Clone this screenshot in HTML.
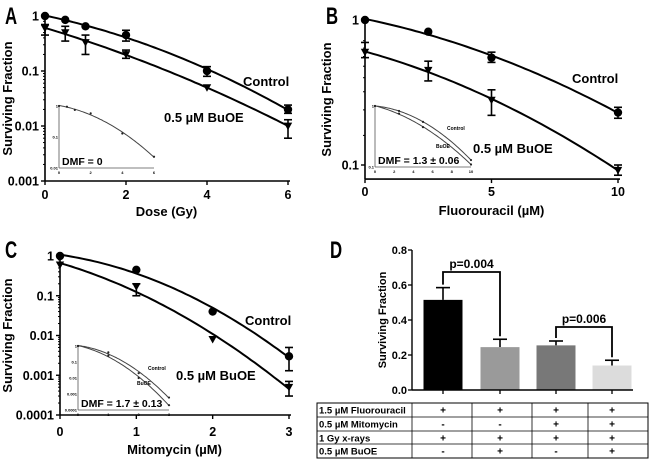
<!DOCTYPE html>
<html><head><meta charset="utf-8"><style>
body{margin:0;background:#fff}
svg{display:block}
text{font-family:"Liberation Sans",Arial,sans-serif;font-weight:bold;fill:#000}
</style></head><body>
<svg id="fig" width="650" height="461" viewBox="0 0 650 461" xmlns="http://www.w3.org/2000/svg"></svg>
<script>
// ---- Panel A data (Dose Gy) ----
const aDose=[0,0.5,1,2,4,6];
const aCtrl=[1,0.85,0.65,0.45,0.1,0.02];
const aCtrlLo=[1,0.85,0.65,0.35,0.08,0.017];
const aCtrlHi=[1,0.85,0.65,0.55,0.12,0.024];
const aBuoe=[0.6,0.5,0.33,0.2,0.05,0.01];
const aBuoeLo=[0.45,0.35,0.2,0.17,0.05,0.006];
const aBuoeHi=[0.7,0.65,0.45,0.24,0.05,0.013];
const aInset=[1,0.95,0.75,0.58,0.13,0.023];
// ---- Panel B data (Fluorouracil uM) ----
const bDose=[0,2.5,5,10];
const bCtrl=[1,0.83,0.55,0.23];
const bCtrlLo=[1,0.83,0.51,0.21];
const bCtrlHi=[1,0.83,0.6,0.25];
const bBuoe=[0.6,0.45,0.28,0.092];
const bBuoeLo=[0.55,0.38,0.22,0.085];
const bBuoeHi=[0.7,0.52,0.33,0.1];
const bInsetCtrl=[1,0.83,0.55,0.13];
const bInsetBuoe=[1,0.75,0.45,0.11];
// ---- Panel C data (Mitomycin uM) ----
const cDose=[0,1,2,3];
const cCtrl=[1,0.45,0.04,0.003];
const cCtrlLo=[1,0.45,0.04,0.0013];
const cCtrlHi=[1,0.45,0.04,0.005];
const cBuoe=[0.6,0.17,0.008,0.0005];
const cBuoeLo=[0.6,0.1,0.008,0.0003];
const cBuoeHi=[0.6,0.2,0.008,0.0007];
const cInsetCtrl=[1,0.4,0.02,0.0006];
const cInsetBuoe=[1,0.25,0.01,0.0002];
// ---- Panel D data ----
const dBars=[0.515,0.245,0.255,0.14];
const dErr=[0.585,0.29,0.28,0.17];
const dColors=["#000","#9a9a9a","#787878","#dcdcdc"];
const dTicks=["0.0","0.2","0.4","0.6","0.8"];
const tableRows=["1.5 µM Fluorouracil","0.5 µM Mitomycin","1 Gy x-rays","0.5 µM BuOE"];
const tableVals=[["+","+","+","+"],["-","-","+","+"],["+","+","+","+"],["-","+","-","+"]];

const svg=document.getElementById('fig');
const NS="http://www.w3.org/2000/svg";
function el(tag,attrs,parent){const e=document.createElementNS(NS,tag);for(const k in attrs)e.setAttribute(k,attrs[k]);(parent||svg).appendChild(e);return e;}
function txt(s,x,y,size,anchor,parent,extra){const t=el('text',Object.assign({x:x,y:y,'font-size':size,'text-anchor':anchor||'middle'},extra||{}),parent);t.textContent=s;return t;}
function fit(xs,ys){
  let n=xs.length,S=[[0,0,0],[0,0,0],[0,0,0]],R=[0,0,0];
  for(let i=0;i<n;i++){const v=[1,xs[i],xs[i]*xs[i]],l=Math.log(ys[i]);for(let r=0;r<3;r++){R[r]+=v[r]*l;for(let c=0;c<3;c++)S[r][c]+=v[r]*v[c];}}
  const M=S.map((r,i)=>r.concat([R[i]]));
  for(let i=0;i<3;i++){let p=M[i][i];for(let j=i;j<4;j++)M[i][j]/=p;for(let k=0;k<3;k++)if(k!==i){const f=M[k][i];for(let j=i;j<4;j++)M[k][j]-=f*M[i][j];}}
  return x=>Math.exp(M[0][3]+M[1][3]*x+M[2][3]*x*x);
}
function curve(g,xs,ys,X,Y,w,x0,x1){const f=fit(xs,ys);let d='';for(let i=0;i<=60;i++){const x=x0+(x1-x0)*i/60;d+=(i?'L':'M')+X(x).toFixed(1)+','+Y(f(x)).toFixed(1);}const p=el('path',{d:d,fill:'none',stroke:'#000','stroke-width':w},g);return p;}
function logScale(top,decadePx,topVal){return v=>top+(Math.log10(topVal)-Math.log10(v))*decadePx;}
function errbar(g,x,lo,hi,Y){if(Math.abs(Y(lo)-Y(hi))<3)return;el('line',{x1:x,x2:x,y1:Y(lo),y2:Y(hi),stroke:'#000','stroke-width':1.6},g);[lo,hi].forEach(v=>el('line',{x1:x-4,x2:x+4,y1:Y(v),y2:Y(v),stroke:'#000','stroke-width':1.6},g));}
function circle(g,x,y,r){const c=el('circle',{cx:x,cy:y,r:r,fill:'#000'},g);}
function tri(g,x,y,r){const p=el('path',{d:`M${x-r},${y-r*0.8}L${x+r},${y-r*0.8}L${x},${y+r}Z`,fill:'#000'},g);}

function mainPanel(o){
  const g=el('g',{});
  const X=v=>o.x0+(v-o.xmin)/(o.xmax-o.xmin)*(o.x1-o.x0);
  const Y=logScale(o.yTop,o.dec,o.topVal);
  const ybot=Y(o.botVal);
  el('line',{x1:o.x0,x2:o.x0,y1:o.yTop-3,y2:ybot,stroke:'#000','stroke-width':1.6},g);
  el('line',{x1:o.x0,x2:o.x1+2,y1:ybot,y2:ybot,stroke:'#000','stroke-width':1.6},g);
  o.yticks.forEach((v,i)=>{const y=Y(v);el('line',{x1:o.x0-4,x2:o.x0,y1:y,y2:y,stroke:'#000','stroke-width':1.4},g);txt(o.ylabels[i],o.x0-6,y+4.5,12.5,'end',g);});
  for(let d=Math.log10(o.botVal);d<Math.log10(o.topVal);d++)for(let m=2;m<10;m++){const y=Y(Math.pow(10,d)*m);if(y>=o.yTop-1)el('line',{x1:o.x0-2,x2:o.x0,y1:y,y2:y,stroke:'#000','stroke-width':1},g);}
  o.xticks.forEach(v=>{const x=X(v);el('line',{x1:x,x2:x,y1:ybot,y2:ybot+4,stroke:'#000','stroke-width':1.4},g);txt(String(v),x,ybot+o.tly,12.5,'middle',g);});
  const xl=txt(o.xlabel,(o.x0+o.x1)/2,ybot+o.xly,13,'middle',g);
  const yl=txt('Surviving Fraction',0,0,13,'middle',g,{transform:`translate(${o.ylx},${(o.yTop+ybot)/2}) rotate(-90)`});
  curve(g,o.xs,o.ctrl,X,Y,2,o.xmin,o.xmax);curve(g,o.xs,o.buoe,X,Y,2,o.xmin,o.xmax);
  o.xs.forEach((v,i)=>{errbar(g,X(v),o.ctrlLo[i],o.ctrlHi[i],Y);errbar(g,X(v),o.buoeLo[i],o.buoeHi[i],Y);circle(g,X(v),Y(o.ctrl[i]),4.2);tri(g,X(v),Y(o.buoe[i]),4.2);});
  const lc=txt('Control',o.ctrlLab[0],o.ctrlLab[1],13,'start',g);
  const lb=txt('0.5 µM BuOE',o.buoeLab[0],o.buoeLab[1],13,'start',g);
  const L=txt(o.letter,o.letPos[0],o.letPos[1],24,'start',g,{'font-weight':'normal',transform:`translate(${o.letPos[0]},0) scale(0.7,1) translate(${-o.letPos[0]},0)`});
  const ig=el('g',{},g);
  const I=o.inset;
  const IX=v=>I.x0+(v-o.xmin)/(o.xmax-o.xmin)*(I.x1-I.x0);
  const IY=v=>I.y0+(-Math.log10(v))/(0-Math.log10(I.bot))*(I.y1-I.y0);
  el('line',{x1:I.x0,x2:I.x0,y1:I.y0,y2:I.y1,stroke:'#555','stroke-width':0.8},ig);
  el('line',{x1:I.x0,x2:I.x1,y1:I.y1,y2:I.y1,stroke:'#555','stroke-width':0.8},ig);
  I.xt.forEach(v=>txt(String(v),IX(v),I.y1+6,4,'middle',ig,{'font-weight':'normal'}));
  I.yt.forEach(v=>txt(String(v),I.x0-1,IY(v)+1.5,4,'end',ig,{'font-weight':'normal'}));
  I.series.forEach(s=>{curve(ig,o.xs,s,IX,IY,1,o.xmin,o.xmax).setAttribute('stroke','#444');o.xs.forEach((v,i)=>el('circle',{cx:IX(v),cy:IY(s[i]),r:1.1,fill:'#222'},ig));});
  I.labels.forEach(l=>txt(l[0],l[1],l[2],5,'start',ig,{'font-weight':'normal'}));
  txt(I.dmf,I.x0+3,I.y1-3,10.5,'start',ig,{'font-weight':'normal'});
}
mainPanel({name:'panel-a',letter:'A',letPos:[5,24],x0:45,x1:288,xmin:0,xmax:6,yTop:16,dec:55,topVal:1,botVal:0.001,
 yticks:[1,0.1,0.01,0.001],ylabels:['1','0.1','0.01','0.001'],xticks:[0,2,4,6],xlabel:'Dose (Gy)',ylx:12,tly:18,xly:35,
 xs:aDose,ctrl:aCtrl,ctrlLo:aCtrlLo,ctrlHi:aCtrlHi,buoe:aBuoe,buoeLo:aBuoeLo,buoeHi:aBuoeHi,ctrlLab:[243,86],buoeLab:[164,122],
 inset:{x0:59,x1:154,y0:106,y1:168,bot:0.01,xt:[0,2,4,6],yt:[1,0.1,0.01],series:[aInset],labels:[],dmf:'DMF = 0'}});
mainPanel({name:'panel-b',letter:'B',letPos:[326,24],x0:365,x1:618,xmin:0,xmax:10,yTop:20,dec:145,topVal:1,botVal:0.08,
 yticks:[1,0.1],ylabels:['1','0.1'],xticks:[0,5,10],xlabel:'Fluorouracil (µM)',ylx:331,tly:17,xly:36,
 xs:bDose,ctrl:bCtrl,ctrlLo:bCtrlLo,ctrlHi:bCtrlHi,buoe:bBuoe,buoeLo:bBuoeLo,buoeHi:bBuoeHi,ctrlLab:[572,83],buoeLab:[473,153],
 inset:{x0:375,x1:471,y0:106,y1:167,bot:0.1,xt:[0,2,4,6,8,10],yt:[1,0.1],series:[bInsetCtrl,bInsetBuoe],labels:[['Control',447,130],['BuOE',436,148]],dmf:'DMF = 1.3 ± 0.06'}});
mainPanel({name:'panel-c',letter:'C',letPos:[5,258],x0:60,x1:289,xmin:0,xmax:3,yTop:256,dec:39.75,topVal:1,botVal:0.0001,
 yticks:[1,0.1,0.01,0.001,0.0001],ylabels:['1','0.1','0.01','0.001','0.0001'],xticks:[0,1,2,3],xlabel:'Mitomycin (µM)',ylx:12,tly:21,xly:39,
 xs:cDose,ctrl:cCtrl,ctrlLo:cCtrlLo,ctrlHi:cCtrlHi,buoe:cBuoe,buoeLo:cBuoeLo,buoeHi:cBuoeHi,ctrlLab:[245,325],buoeLab:[176,380],
 inset:{x0:78,x1:169,y0:346,y1:410,bot:0.0001,xt:[0,1,2,3],yt:[1,0.1,0.01,0.001,0.0001],series:[cInsetCtrl,cInsetBuoe],labels:[['Control',148,370],['BuOE',137,385]],dmf:'DMF = 1.7 ± 0.13'}});

// ---- Panel D ----
(function(){
  const g=el('g',{});
  const x0=412,x1=633,yb=390,pxPer=175;
  const Y=v=>yb-v*pxPer;
  const bw=39,centers=[443,500,556,612];
  dBars.forEach((v,i)=>{const c=centers[i];
    el('line',{x1:c,x2:c,y1:Y(v),y2:Y(dErr[i]),stroke:'#000','stroke-width':1.6},g);
    el('line',{x1:c-7,x2:c+7,y1:Y(dErr[i]),y2:Y(dErr[i]),stroke:'#000','stroke-width':1.6},g);
    const r=el('rect',{x:c-bw/2,y:Y(v),width:bw,height:v*pxPer,fill:dColors[i]},g);
    
    el('line',{x1:c,x2:c,y1:yb,y2:yb+4,stroke:'#000','stroke-width':1.3},g);
  });
  el('line',{x1:x0,x2:x0,y1:Y(0.8),y2:yb,stroke:'#000','stroke-width':1.4},g);
  el('line',{x1:x0,x2:x1,y1:yb,y2:yb,stroke:'#000','stroke-width':1.4},g);
  dTicks.forEach(t=>{const y=Y(parseFloat(t));el('line',{x1:x0-4,x2:x0,y1:y,y2:y,stroke:'#000','stroke-width':1.3},g);txt(t,x0-5,y+4,11,'end',g);});
  const yl=txt('Surviving Fraction',0,0,11,'middle',g,{transform:`translate(386,${(Y(0.8)+yb)/2}) rotate(-90)`});
  function bracket(a,b,top,ya,yb2,label){el('path',{d:`M${centers[a]},${ya}V${top}H${centers[b]}V${yb2}`,fill:'none',stroke:'#000','stroke-width':1.8},g);const t=txt(label,(centers[a]+centers[b])/2,top-4,12,'middle',g);}
  bracket(0,1,272,Y(dErr[0])-3,Y(dErr[1])-3,'p=0.004');
  bracket(2,3,327,Y(dErr[2])-3,Y(dErr[3])-3,'p=0.006');
  const L=txt('D',330,258,24,'start',g,{'font-weight':'normal',transform:'translate(330,0) scale(0.7,1) translate(-330,0)'});
  const tg=el('g',{},g);
  const cols=[317,412,472,532,588,648],rows=[403,417,431,444,458];
  el('rect',{x:317,y:403,width:331,height:55,fill:'none',stroke:'#000','stroke-width':1},tg);
  rows.slice(1,4).forEach(y=>el('line',{x1:317,x2:648,y1:y,y2:y,stroke:'#000','stroke-width':0.8},tg));
  cols.slice(1,5).forEach(x=>el('line',{x1:x,x2:x,y1:403,y2:458,stroke:'#000','stroke-width':0.8},tg));
  tableRows.forEach((r,i)=>{txt(r,319,rows[i]+10.5,9.5,'start',tg);tableVals[i].forEach((v,j)=>txt(v,centers[j],rows[i]+10.5,10,'middle',tg));});
})();
</script>
</body></html>
